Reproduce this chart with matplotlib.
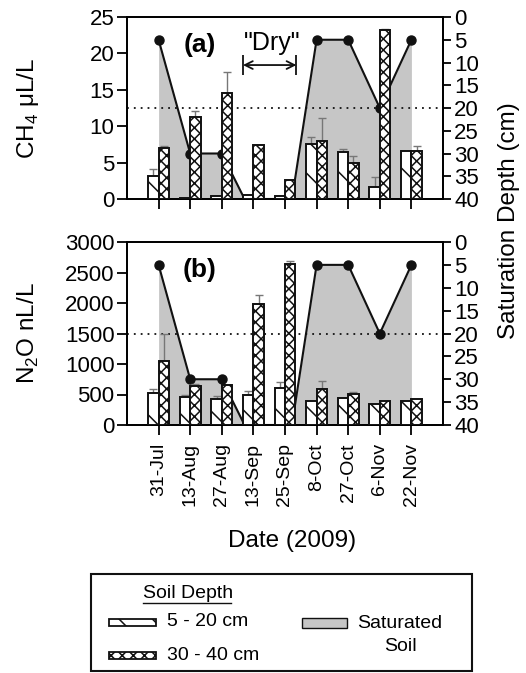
import numpy as np
import matplotlib as mpl
mpl.use("Agg")
import matplotlib.pyplot as plt
from matplotlib.patches import Rectangle

mpl.rcParams.update({
    "font.family": ["Liberation Sans", "DejaVu Sans"],
    "mathtext.fontset": "custom", "mathtext.rm": "Liberation Sans",
    "axes.linewidth": 1.3, "hatch.linewidth": 1.1,
})

# ---- data ----
dates = ["31-Jul", "13-Aug", "27-Aug", "13-Sep", "25-Sep", "8-Oct", "27-Oct", "6-Nov", "22-Nov"]
ch4_shallow = [3.2, 0.15, 0.45, 0.55, 0.35, 7.5, 6.4, 1.7, 6.6]
ch4_shallow_err = [0.9, 0, 0, 0, 0, 1.0, 0.4, 1.3, 0.05]
ch4_deep = [7.05, 11.2, 14.5, 7.4, 2.6, 7.9, 4.95, 23.25, 6.6]
ch4_deep_err = [0.25, 0.9, 2.9, 0, 0, 3.2, 0.95, 0.1, 0.7]
n2o_shallow = [528, 467, 433, 489, 611, 394, 439, 350, 394]
n2o_shallow_err = [55, 22, 45, 61, 89, 0, 0, 0, 0]
n2o_deep = [1050, 639, 661, 1983, 2644, 594, 506, 394, 422]
n2o_deep_err = [444, 39, 0, 156, 50, 134, 38, 0, 0]
# saturation depth (cm): measured dates, plus where the line meets 40 cm in the dry spell
sat_idx = [0, 1, 2, 5, 6, 7, 8]
sat_meas = [5, 30, 30, 5, 5, 20, 5]
sat_pos = [0, 1, 2, 2.72, 4.22, 5, 6, 7, 8]
sat_depth = [5, 30, 30, 40, 40, 5, 5, 20, 5]
dry_span = [2.67, 4.36]

W, H = 526, 673
fig = plt.figure(figsize=(W/100, H/100), dpi=100)
GRAY = "#c6c6c6"
x = np.arange(len(dates))
bw = 0.33

def panel(rect, shallow, s_err, deep, d_err, ymax, yticks, label, tag, ylab_y):
    ax = fig.add_axes(rect)
    ax2 = ax.twinx()
    ax.set_zorder(ax2.get_zorder() + 1); ax.patch.set_visible(False)
    ax2.fill_between(sat_pos, sat_depth, 40, color=GRAY, lw=0, zorder=1)
    ax2.plot(sat_pos, sat_depth, color="#111111", lw=1.5, zorder=2)
    ax2.plot(sat_idx, sat_meas, "o", color="#111111", ms=6.5, zorder=3)
    ax2.axhline(20, color="#111111", lw=1.3, ls=(0, (1, 2.8)), zorder=2)
    ax2.set_ylim(40, 0); ax2.set_yticks(range(0, 41, 5))
    ax2.tick_params(axis="y", direction="out", length=6, width=1.3, labelsize=16, pad=2)
    ax.bar(x - bw/2, shallow, bw, color="white", edgecolor="#111111", lw=1.4, hatch="\\", zorder=3)
    ax.bar(x + bw/2, deep, bw, color="white", edgecolor="#111111", lw=1.4, hatch="xxx", zorder=3)
    ax.errorbar(x - bw/2, shallow, yerr=[np.zeros(len(x)), s_err], fmt="none",
                ecolor="#777777", elinewidth=1.0, capsize=3, zorder=2)
    ax.errorbar(x + bw/2, deep, yerr=[np.zeros(len(x)), d_err], fmt="none",
                ecolor="#777777", elinewidth=1.0, capsize=3, zorder=2)
    ax.set_xlim(-1, 9); ax.set_ylim(0, ymax); ax.set_yticks(yticks)
    ax.set_xticks(x)
    ax.tick_params(axis="y", direction="out", length=7, width=1.3, labelsize=16, pad=2)
    ax.tick_params(axis="x", direction="out", length=7, width=1.3)
    ax.text(0.231, 0.847, tag, transform=ax.transAxes, fontsize=19, fontweight="bold",
            ha="center", va="center")
    fig.text(28/W, 1 - ylab_y/H, label, rotation=90, fontsize=17.5, ha="center", va="center")
    return ax

axa = panel([127/W, 1-199/H, 316/W, 182/H], ch4_shallow, ch4_shallow_err, ch4_deep, ch4_deep_err,
            25, range(0, 26, 5), "CH$_4$ μL/L", "(a)", 108)
axa.set_xticklabels([])
axa.text(0.459, 0.857, '"Dry"', transform=axa.transAxes, fontsize=18, ha="center", va="center")
axa.annotate("", xy=(dry_span[1], 0.736), xytext=(dry_span[0], 0.736),
             xycoords=("data", "axes fraction"),
             arrowprops=dict(arrowstyle="<->", lw=1.3, color="#111111", shrinkA=0, shrinkB=0,
                             mutation_scale=14))
axa.vlines(dry_span, 0.68, 0.79, transform=axa.get_xaxis_transform(), color="#111111", lw=1.3)

axb = panel([127/W, 1-425/H, 316/W, 183/H], n2o_shallow, n2o_shallow_err, n2o_deep, n2o_deep_err,
            3000, range(0, 3001, 500), r"N$_2$O nL/L", "(b)", 333)
axb.set_xticklabels(dates, rotation=90, fontsize=14)
axb.tick_params(axis="x", pad=6)

fig.text(509/W, 1-221/H, "Saturation Depth (cm)", rotation=90, fontsize=17.5, ha="center", va="center")
fig.text(292/W, 1-541/H, "Date (2009)", fontsize=17.5, ha="center", va="center")

# ---- hand-built legend box ----
lg = fig.add_axes([90/W, 1-671/H, 383/W, 98/H])
lg.set_xlim(90, 473); lg.set_ylim(671, 573); lg.axis("off")
lg.add_patch(Rectangle((91, 573.5), 381, 97, fill=False, lw=1.5, edgecolor="#111111", clip_on=False))
lg.text(143, 593, "Soil Depth", fontsize=14, ha="left", va="center")
lg.plot([143, 231], [603, 603], color="#111111", lw=1.0)
lg.add_patch(Rectangle((109, 619), 47, 7, facecolor="white", edgecolor="#111111", lw=1.3, hatch="\\"))
lg.text(167, 622, "5 - 20 cm", fontsize=14, ha="left", va="center")
lg.add_patch(Rectangle((109, 652), 47, 7, facecolor="white", edgecolor="#111111", lw=1.3, hatch="xxx"))
lg.text(167, 655, "30 - 40 cm", fontsize=14, ha="left", va="center")
lg.add_patch(Rectangle((302, 618), 45, 10, facecolor=GRAY, edgecolor="#111111", lw=1.0))
lg.text(400, 635, "Saturated\nSoil", fontsize=14, ha="center", va="center", linespacing=1.4)

fig.savefig("out.png", dpi=100)
